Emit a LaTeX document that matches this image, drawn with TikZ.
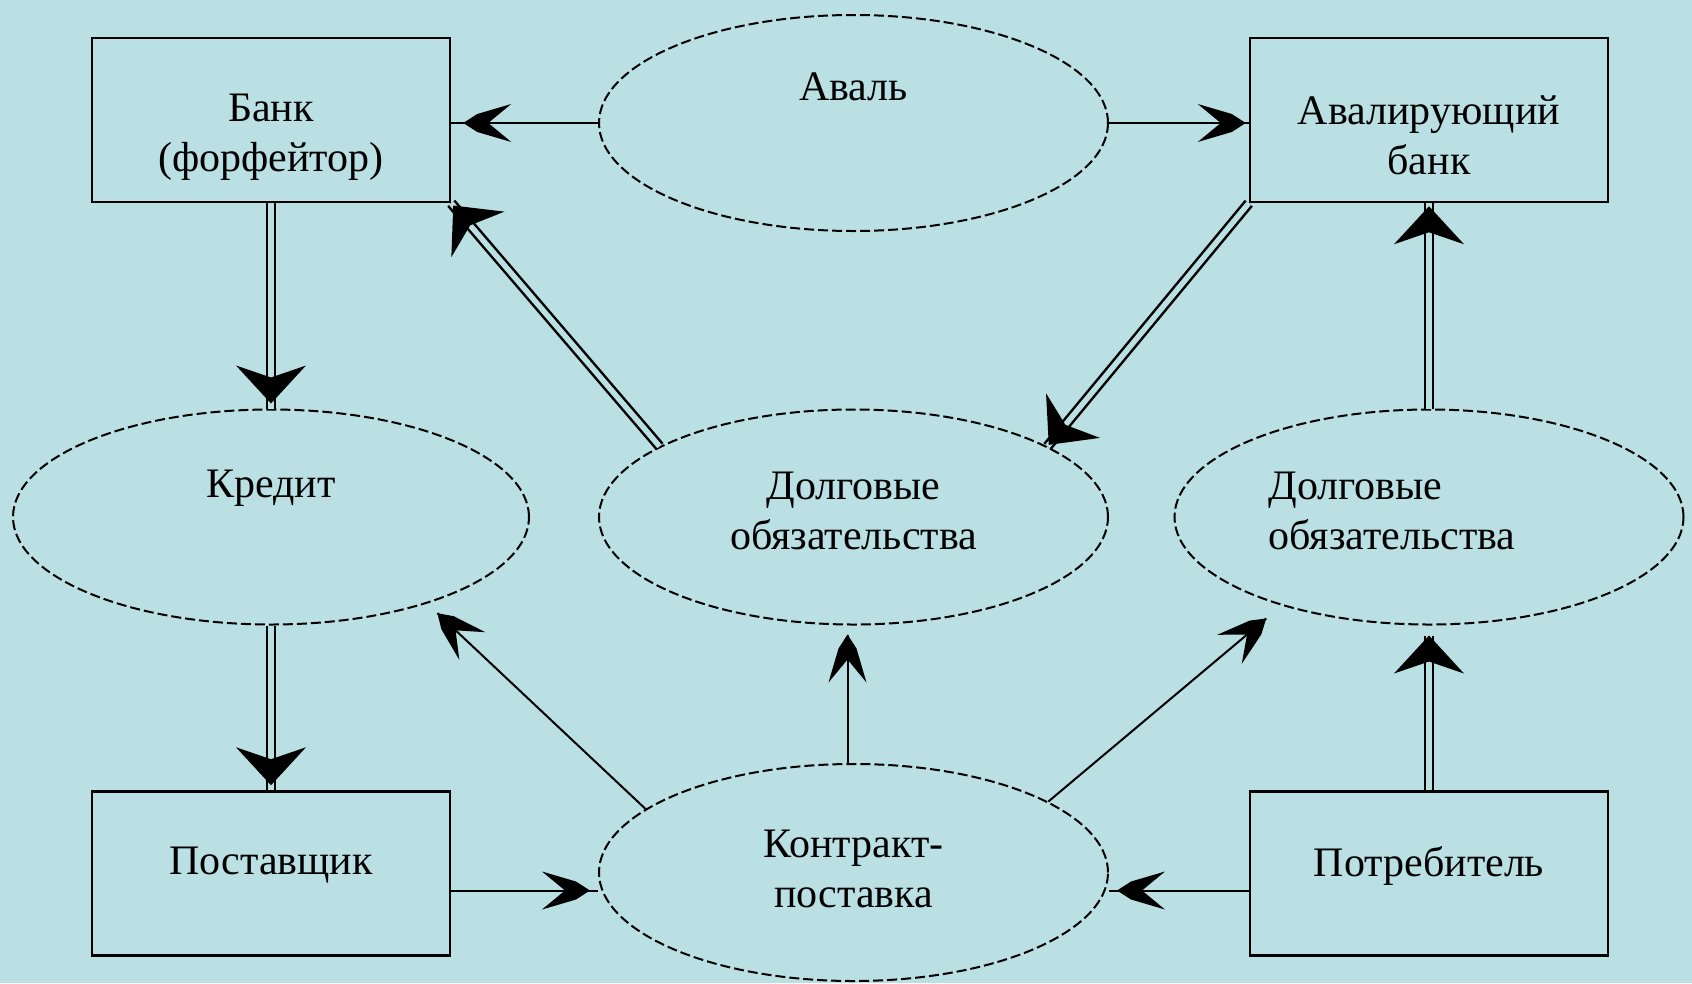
\documentclass[tikz,border=0pt]{standalone}
\usepackage{fontspec}
\setmainfont{Liberation Serif}
\usetikzlibrary{shapes.geometric,decorations.markings}
\definecolor{bgc}{RGB}{186,224,227}
\tikzset{
  box/.style={draw, line width=2.5pt, rectangle, minimum width=358pt,
    minimum height=164pt, inner sep=0pt},
  oval/.style={draw, ellipse, line width=2pt, dash pattern=on 10pt off 4pt,
    minimum width=509pt, minimum height=215pt, inner sep=0pt},
  txt/.style={align=center, inner sep=0pt},
  single/.style={draw, line width=2pt},
  dbl/.style={draw=bgc, line width=5.5pt,
    preaction={draw=black, line width=10.5pt}},
  headS/.style={postaction={draw=none, decorate, decoration={markings,
    mark=at position #1 with {\fill[black] (0pt,0pt) -- (-14pt,9pt)
      -- (-48pt,19pt) -- (-25pt,0pt) -- (-48pt,-19pt) -- (-14pt,-9pt) -- cycle;}}}},
  headD/.style={postaction={draw=none, decorate, decoration={markings,
    mark=at position #1 with {\fill[black] (0pt,0pt) -- (-38pt,35pt)
      -- (-26pt,0pt) -- (-38pt,-35pt) -- cycle;}}}},
}
\begin{document}
\begin{tikzpicture}[x=1pt, y=-1pt, font=\fontsize{42}{50}\selectfont]
  \fill[bgc] (0,0) rectangle (1692,983);
  \useasboundingbox (0,0) rectangle (1692,983);

  % rectangles
  \node[box, label={[txt, yshift=-17pt]center:Банк\\(форфейтор)}] (bank) at (271,120) {};
  \node[box, label={[txt, yshift=-15pt]center:Авалирующий\\банк}] (avb) at (1429,120) {};
  \node[box, label={[txt, yshift=8pt]center:Поставщик}] (postav) at (271,873.5) {};
  \node[box, label={[txt, yshift=8pt]center:Потребитель}] (potreb) at (1429,873.5) {};

  % ovals
  \node[oval, minimum height=216pt, label={[txt, yshift=36pt]center:Аваль}] (aval) at (853.5,123) {};
  \node[oval, minimum width=516pt, label={[txt, yshift=29pt]center:Кредит}] (kredit) at (271,517) {};
  \node[oval, label={[txt, yshift=6pt]center:Долговые\\обязательства}] (dolgM) at (853.5,517) {};
  \node[oval, label={[txt, align=left, xshift=-37pt, yshift=6pt]center:Долговые\\обязательства}] (dolgR) at (1429,517) {};
  \node[oval, minimum height=217pt, label={[txt, yshift=4pt]center:Контракт-\\поставка}] (kontrakt) at (853.5,872.5) {};

  % single connectors
  \draw[single, headS=-12pt] (aval.west) -- (aval.west -| bank.east);
  \draw[single, headS=-3pt] (aval.east) -- (aval.east -| avb.west);
  \draw[single, headS=-8pt] ([yshift=-17pt]postav.east) -- ([yshift=-17pt]postav.east -| kontrakt.west);
  \draw[single, headS=-8pt] ([yshift=-17pt]potreb.west) -- ([yshift=-17pt]potreb.west -| kontrakt.east);
  \draw[single, shorten >=14pt, headS=-14pt] (kontrakt.163) -- (kredit.-29);
  \draw[single, shorten >=9pt, headS=-9pt] ([xshift=-6pt]kontrakt.north) -- ([xshift=-6pt]dolgM.south);
  \draw[single, shorten >=20pt, headS=-20pt] (kontrakt.20) -- (dolgR.211);

  % double connectors
  \draw[dbl, headD=-5pt] (bank.south) -- (kredit.north);
  \draw[dbl, headD=-5pt] (kredit.south) -- (postav.north);
  \draw[dbl, headD=-3pt] (dolgM.160) -- (bank.south east);
  \draw[dbl, headD=-2pt] (avb.south west) -- (dolgM.20);
  \draw[dbl, headD=-3pt] (dolgR.north) -- (avb.south);
  \draw[dbl, shorten >=10pt, headD=-10pt] (potreb.north) -- (dolgR.south);
\end{tikzpicture}
\end{document}
